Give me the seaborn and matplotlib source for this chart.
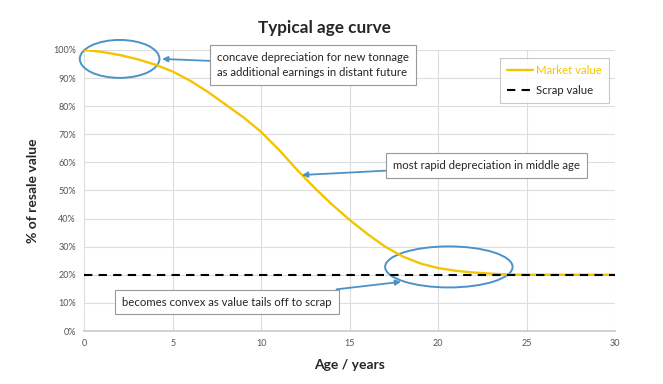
import matplotlib
matplotlib.use("Agg")
import matplotlib.pyplot as plt
from matplotlib.patches import Ellipse
from matplotlib.ticker import PercentFormatter
import seaborn as sns
import pandas as pd

# ---- data ----
ages = [0, 1, 2, 3, 4, 5, 6, 7, 8, 9, 10, 11, 12, 13, 14, 15,
        16, 17, 18, 19, 20, 21, 22, 23, 24, 25, 26, 27, 28, 29, 30]
market_value = [100, 99.3, 98.2, 96.7, 94.8, 92.3, 89, 85, 80.5, 76, 70.8, 64.5, 57.5,
                51, 45, 39.5, 34.5, 30, 26.5, 24, 22.4, 21.4, 20.8, 20.4,
                20.1, 20, 20, 20, 20, 20, 20]
scrap_value = [20] * len(ages)

notes = ["concave depreciation for new tonnage\nas additional earnings in distant future",
         "most rapid depreciation in middle age",
         "becomes convex as value tails off to scrap"]

df = pd.DataFrame({"age": ages, "Market value": market_value, "Scrap value": scrap_value})

sns.set_theme(style="white")
plt.rcParams["font.family"] = ["Lato", "DejaVu Sans"]

yellow = "#F5C400"
blue = "#4A93C9"
tick_col = "#555555"

fig = plt.figure(figsize=(6.63, 3.84), dpi=100)
ax = fig.add_axes([0.127, 0.138, 0.801, 0.732])

sns.lineplot(data=df, x="age", y="Market value", color=yellow, lw=1.7, ax=ax, label="Market value")
sns.lineplot(data=df, x="age", y="Scrap value", color="black", lw=1.5, ls=(0, (4, 3)), ax=ax, label="Scrap value")

ax.set_xlim(0, 30)
ax.set_ylim(0, 100)
ax.set_xticks(range(0, 31, 5))
ax.set_yticks(range(0, 101, 10))
ax.yaxis.set_major_formatter(PercentFormatter(decimals=0))
ax.grid(True, color="#dddddd", lw=0.8)
for s in ["top", "right", "left"]:
    ax.spines[s].set_visible(False)
ax.spines["bottom"].set_color("#cccccc")
ax.tick_params(labelsize=6.5, colors=tick_col, length=0, pad=6)

ax.set_xlabel("Age / years", fontsize=10, fontweight="bold", labelpad=8)
ax.set_ylabel("% of resale value", fontsize=10, fontweight="bold", labelpad=10)
fig.text(0.49, 0.915, "Typical age curve", ha="center", fontsize=12.3, fontweight="bold")

leg = ax.legend(loc="upper right", bbox_to_anchor=(0.988, 0.972), fontsize=8.2,
                frameon=True, fancybox=False, edgecolor="#bbbbbb",
                handlelength=2.3, handletextpad=0.3, borderpad=0.6, labelspacing=0.8,
                borderaxespad=0)
leg.get_frame().set_linewidth(0.8)
leg.get_texts()[0].set_color(yellow)

# ellipses
ax.add_patch(Ellipse((2.0, 96.8), 4.5, 13.5, fill=False, ec=blue, lw=1.4, clip_on=False))
ax.add_patch(Ellipse((20.6, 22.8), 7.2, 14.6, fill=False, ec=blue, lw=1.4))

box = dict(boxstyle="square,pad=0.6", fc="white", ec="#999999", lw=0.8)
arrow = dict(arrowstyle="-|>", color=blue, lw=1.3, mutation_scale=8, shrinkA=0, shrinkB=0)

ax.annotate(notes[0], xy=(4.4, 96.8), xytext=(7.5, 94.6), fontsize=8.2, ha="left", va="center",
            bbox=box, arrowprops=arrow, linespacing=1.5)
ax.annotate(notes[1], xy=(12.3, 55.5), xytext=(17.45, 58.9), fontsize=8.2, ha="left", va="center",
            bbox=box, arrowprops=arrow)
ax.annotate(notes[2], xy=(17.9, 17.5), xytext=(2.15, 10.3), fontsize=8.2, ha="left", va="center",
            bbox=box, arrowprops=arrow)

fig.savefig("out.png", dpi=100)
